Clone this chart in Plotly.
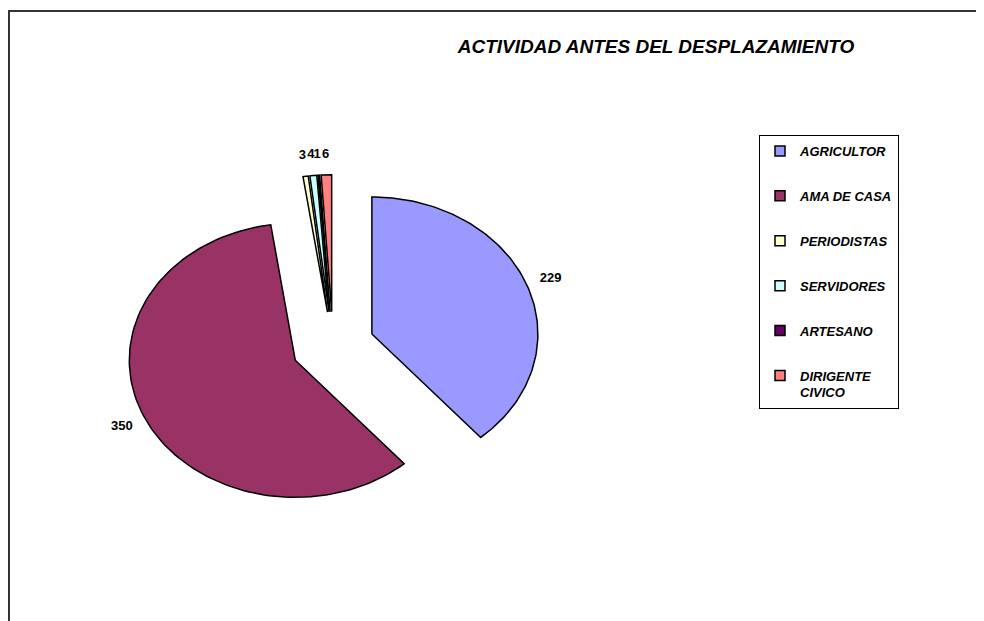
import numpy as np
import plotly.graph_objects as go

categorias = ["AGRICULTOR", "AMA DE CASA", "PERIODISTAS", "SERVIDORES", "ARTESANO", "DIRIGENTE CIVICO"]
nombres_leyenda = ["AGRICULTOR", "AMA DE CASA", "PERIODISTAS", "SERVIDORES", "ARTESANO", "DIRIGENTE<br>CIVICO"]
valores = [229, 350, 3, 4, 1, 6]
colores = ["#9999FF", "#993366", "#FFFFCC", "#CCFFFF", "#660066", "#FF8080"]
titulo = "ACTIVIDAD ANTES DEL DESPLAZAMIENTO"

W, H = 984, 621
OFF = 8  # the page body adds an 8px margin
# pie centre and radii in pixels (the chart was stretched, so the pie is an ellipse)
CX, CY, RX, RY = 333 - OFF, 346 - OFF, 166, 137
EXPLODE = 0.25
LABEL_R = 1.15

FONT = "Liberation Sans, Arial, sans-serif"

fig = go.Figure()

total = sum(valores)
start = 0.0
label_x, label_y = [], []
for nombre, valor, color in zip(categorias, valores, colores):
    span = valor / total * 2 * np.pi
    theta = np.linspace(start, start + span, 120)
    mid = start + span / 2
    ox, oy = EXPLODE * np.sin(mid), EXPLODE * np.cos(mid)
    xs = np.concatenate([[ox], ox + np.sin(theta), [ox]])
    ys = np.concatenate([[oy], oy + np.cos(theta), [oy]])
    fig.add_trace(go.Scatter(
        x=xs, y=ys, mode="lines", fill="toself", fillcolor=color,
        line=dict(color="black", width=1.5), name=nombre,
        showlegend=False, hoverinfo="name",
    ))
    label_x.append(ox + LABEL_R * np.sin(mid))
    label_y.append(oy + LABEL_R * np.cos(mid))
    start += span

fig.add_trace(go.Scatter(
    x=label_x, y=label_y, mode="text", text=[str(v) for v in valores],
    textfont=dict(family=FONT, size=13, color="black", weight="bold"),
    showlegend=False, hoverinfo="skip",
))

# legend entries (square swatches)
for i, (nombre, color) in enumerate(zip(nombres_leyenda, colores)):
    fig.add_trace(go.Scatter(
        x=[None], y=[None], mode="markers", name=nombre, legendgroup=f"g{i}",
        marker=dict(symbol="square", size=10, color=color, line=dict(color="black", width=1.5)),
    ))

fig.add_shape(
    type="rect", xref="paper", yref="paper",
    x0=0.001, x1=1.02, y0=-0.02, y1=1 - 3 / H,
    line=dict(color="#333333", width=2), fillcolor="rgba(0,0,0,0)", layer="below",
)

fig.update_layout(
    width=W, height=H,
    margin=dict(l=0, r=0, t=0, b=0),
    paper_bgcolor="white", plot_bgcolor="white",
    xaxis=dict(range=[-CX / RX, (W - CX) / RX], visible=False, fixedrange=True),
    yaxis=dict(range=[-(H - CY) / RY, CY / RY], visible=False, fixedrange=True),
    title=dict(
        text=titulo, x=(656 - OFF) / W, y=1 - (46 - OFF) / H, xanchor="center", yanchor="middle",
        font=dict(family=FONT, size=19, color="black", weight="bold", style="italic"),
    ),
    legend=dict(
        x=(759 - OFF) / W, y=1 - (135 - OFF) / H, xanchor="left", yanchor="top",
        bordercolor="black", borderwidth=1, bgcolor="white",
        font=dict(family=FONT, size=13, color="black", weight="bold", style="italic"),
        tracegroupgap=25, valign="top", itemwidth=30,
        entrywidth=150, entrywidthmode="pixels",
    ),
    showlegend=True,
)

fig.write_html("out.html")
